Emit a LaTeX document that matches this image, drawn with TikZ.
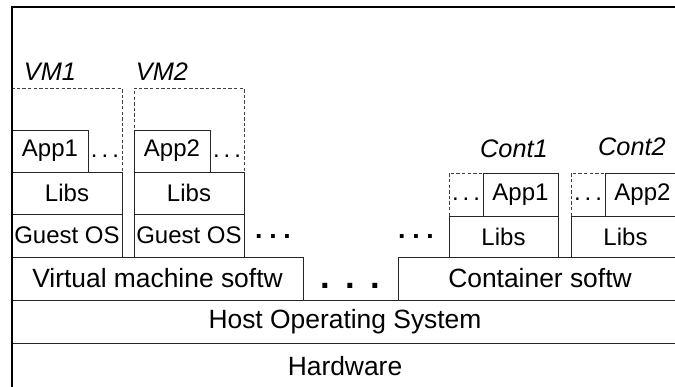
\documentclass[tikz,border=0pt]{standalone}
\usepackage{fontspec}
\setmainfont{Liberation Sans}
\begin{document}
\begin{tikzpicture}[x=0.75pt,y=-0.75pt,
  box/.style={draw=black!85, line width=0.6pt, inner sep=0pt, font=\fontsize{18}{20}\selectfont},
  layer/.style={box, font=\fontsize{19.8}{22}\selectfont},
  dbox/.style={draw=black!75, line width=0.6pt, dash pattern=on 2.6pt off 1.6pt, inner sep=0pt},
  lbl/.style={inner sep=0pt, font=\fontsize{19}{21}\selectfont\itshape},
  sdots/.style={inner sep=0pt, font=\fontsize{18}{20}\selectfont},
  mdots/.style={inner sep=0pt, font=\fontsize{20}{22}\selectfont\bfseries},
  frame/.style={draw=black, line width=1.1pt}]
\useasboundingbox (0,0) rectangle (675,386);
\clip (0,0) rectangle (675,386);
% VM1
\node[dbox, minimum width=110*0.75pt, minimum height=169*0.75pt] (vm1) at (67,172.5) {};
\node[box, minimum width=76*0.75pt, minimum height=42*0.75pt] (app1) at (50,151) {App1};
\node[box, minimum width=110*0.75pt, minimum height=42*0.75pt] (libs1) at (67,193) {Libs};
\node[box, minimum width=110*0.75pt, minimum height=43*0.75pt] (gos1) at (67,235.5) {Guest OS};
\node[sdots] (d1) at (105,156) {.\,.\,.};
\node[lbl] (lvm1) at (50,72) {VM1};
% VM2
\node[dbox, minimum width=110*0.75pt, minimum height=169*0.75pt] (vm2) at (189,172.5) {};
\node[box, minimum width=76*0.75pt, minimum height=42*0.75pt] (app2) at (172,151) {App2};
\node[box, minimum width=110*0.75pt, minimum height=42*0.75pt] (libs2) at (189,193) {Libs};
\node[box, minimum width=110*0.75pt, minimum height=43*0.75pt] (gos2) at (189,235.5) {Guest OS};
\node[sdots] (d2) at (227,156) {.\,.\,.};
\node[lbl] (lvm2) at (162,72) {VM2};
% medium dots
\node[mdots] (m1) at (273,237) {.\hspace{5pt}.\hspace{5pt}.};
\node[mdots] (m2) at (416,237) {.\hspace{5pt}.\hspace{5pt}.};
% Cont1
\node[dbox, minimum width=109*0.75pt, minimum height=84*0.75pt] (c1) at (503.5,215) {};
\node[box, minimum width=75*0.75pt, minimum height=43*0.75pt] (capp1) at (520.5,194.5) {App1};
\node[box, minimum width=109*0.75pt, minimum height=41*0.75pt] (clibs1) at (503.5,236.5) {Libs};
\node[sdots] (d3) at (466,199) {.\,.\,.};
\node[lbl] (lc1) at (514,149) {Cont1};
% Cont2
\node[dbox, minimum width=109*0.75pt, minimum height=84*0.75pt] (c2) at (625.5,215) {};
\node[box, minimum width=75*0.75pt, minimum height=43*0.75pt] (capp2) at (642.5,194.5) {App2};
\node[box, minimum width=109*0.75pt, minimum height=41*0.75pt] (clibs2) at (625.5,236.5) {Libs};
\node[sdots] (d4) at (588,199) {.\,.\,.};
\node[lbl] (lc2) at (632,147) {Cont2};
% software layer
\node[layer, minimum width=291*0.75pt, minimum height=43*0.75pt] (vms) at (157.5,278.5) {Virtual machine softw};
\node[inner sep=0pt, font=\fontsize{26}{28}\selectfont\bfseries] (bd) at (350,286) {.\hspace{11.5pt}.\hspace{11.5pt}.};
\node[layer, minimum width=284*0.75pt, minimum height=43*0.75pt] (cs) at (540,278.5) {Container softw};
% host and hardware
\node[layer, minimum width=666*0.75pt, minimum height=43*0.75pt] (host) at (345,321.5) {Host Operating System};
\node[layer, minimum width=666*0.75pt, minimum height=46*0.75pt] (hw) at (345,366) {Hardware};
% frame
\coordinate (ftl) at (12,7);
\coordinate (ftr) at (680,7);
\coordinate (fbl) at (12,392);
\draw[frame] (ftr) -- (ftl) -- (fbl);
\end{tikzpicture}
\end{document}
